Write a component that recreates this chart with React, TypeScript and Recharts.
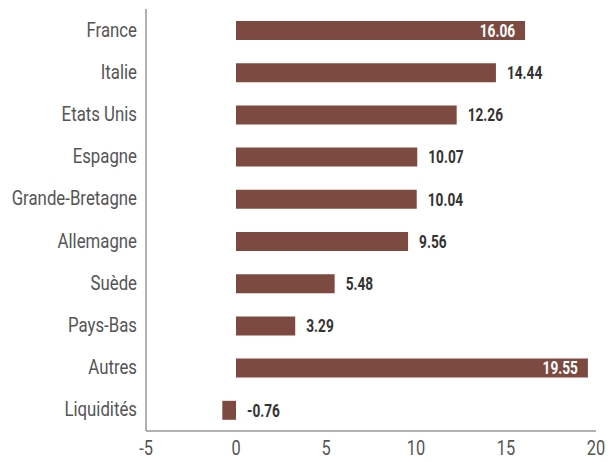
import React from "react";
import { BarChart, Bar, XAxis, YAxis, LabelList, Cell } from "recharts";

const categories = [
  "France",
  "Italie",
  "Etats Unis",
  "Espagne",
  "Grande-Bretagne",
  "Allemagne",
  "Suède",
  "Pays-Bas",
  "Autres",
  "Liquidités",
];
const values = [16.06, 14.44, 12.26, 10.07, 10.04, 9.56, 5.48, 3.29, 19.55, -0.76];
const xTicks = [-5, 0, 5, 10, 15, 20];

const data = categories.map((name, i) => ({ name, value: values[i] }));

const FONT = "Roboto, 'Noto Sans', sans-serif";
const BAR = "#7C4A40";

const ValueLabel = (props: any) => {
  const { x, y, width, height, value } = props;
  const right = Math.max(x, x + width);
  const cy = y + height / 2;
  const inside = value > 15;
  const text = value.toFixed(2);
  const tx = inside ? right - 10 : right + 11;
  return (
    <g transform={`translate(${tx},${cy})`}>
      <text
        transform="scale(0.72,1)"
        x={0}
        y={0}
        textAnchor={inside ? "end" : "start"}
        dominantBaseline="central"
        fill={inside ? "#ffffff" : "#333333"}
        fontFamily={FONT}
        fontWeight="bold"
        fontSize={19}
      >
        {text}
      </text>
    </g>
  );
};

const YTick = (props: any) => {
  const { x, y, payload } = props;
  return (
    <g transform={`translate(${x},${y})`}>
      <text
        transform="scale(0.84,1)"
        x={0}
        y={0}
        textAnchor="end"
        dominantBaseline="central"
        fill="#555555"
        fontFamily={FONT}
        fontSize={20}
      >
        {payload.value}
      </text>
    </g>
  );
};

const XTick = (props: any) => {
  const { x, y, payload } = props;
  return (
    <g transform={`translate(${x},${y + 14})`}>
      <text
        transform="scale(0.78,1)"
        x={0}
        y={0}
        textAnchor="middle"
        fill="#555555"
        fontFamily={FONT}
        fontSize={21}
      >
        {payload.value}
      </text>
    </g>
  );
};

export default function App() {
  return (
    <div style={{ position: "absolute", left: 0, top: 0, background: "#fff" }}>
      <BarChart
        width={608}
        height={462}
        data={data}
        layout="vertical"
        margin={{ top: 9, right: 12, bottom: 0, left: 0 }}
        barCategoryGap={0}
      >
        <XAxis
          type="number"
          domain={[-5, 20]}
          ticks={xTicks}
          tickLine={false}
          axisLine={{ stroke: "#999999", strokeWidth: 1.5 }}
          tick={<XTick />}
          height={31}
          tickMargin={4}
          interval={0}
        />
        <YAxis
          type="category"
          dataKey="name"
          width={146}
          tickLine={false}
          axisLine={{ stroke: "#999999", strokeWidth: 1.5 }}
          tick={<YTick />}
          tickMargin={3}
          interval={0}
        />
        <Bar dataKey="value" fill={BAR} barSize={19} isAnimationActive={false}>
          {data.map((d, i) => (
            <Cell key={i} fill={BAR} />
          ))}
          <LabelList dataKey="value" content={<ValueLabel />} />
        </Bar>
      </BarChart>
    </div>
  );
}
